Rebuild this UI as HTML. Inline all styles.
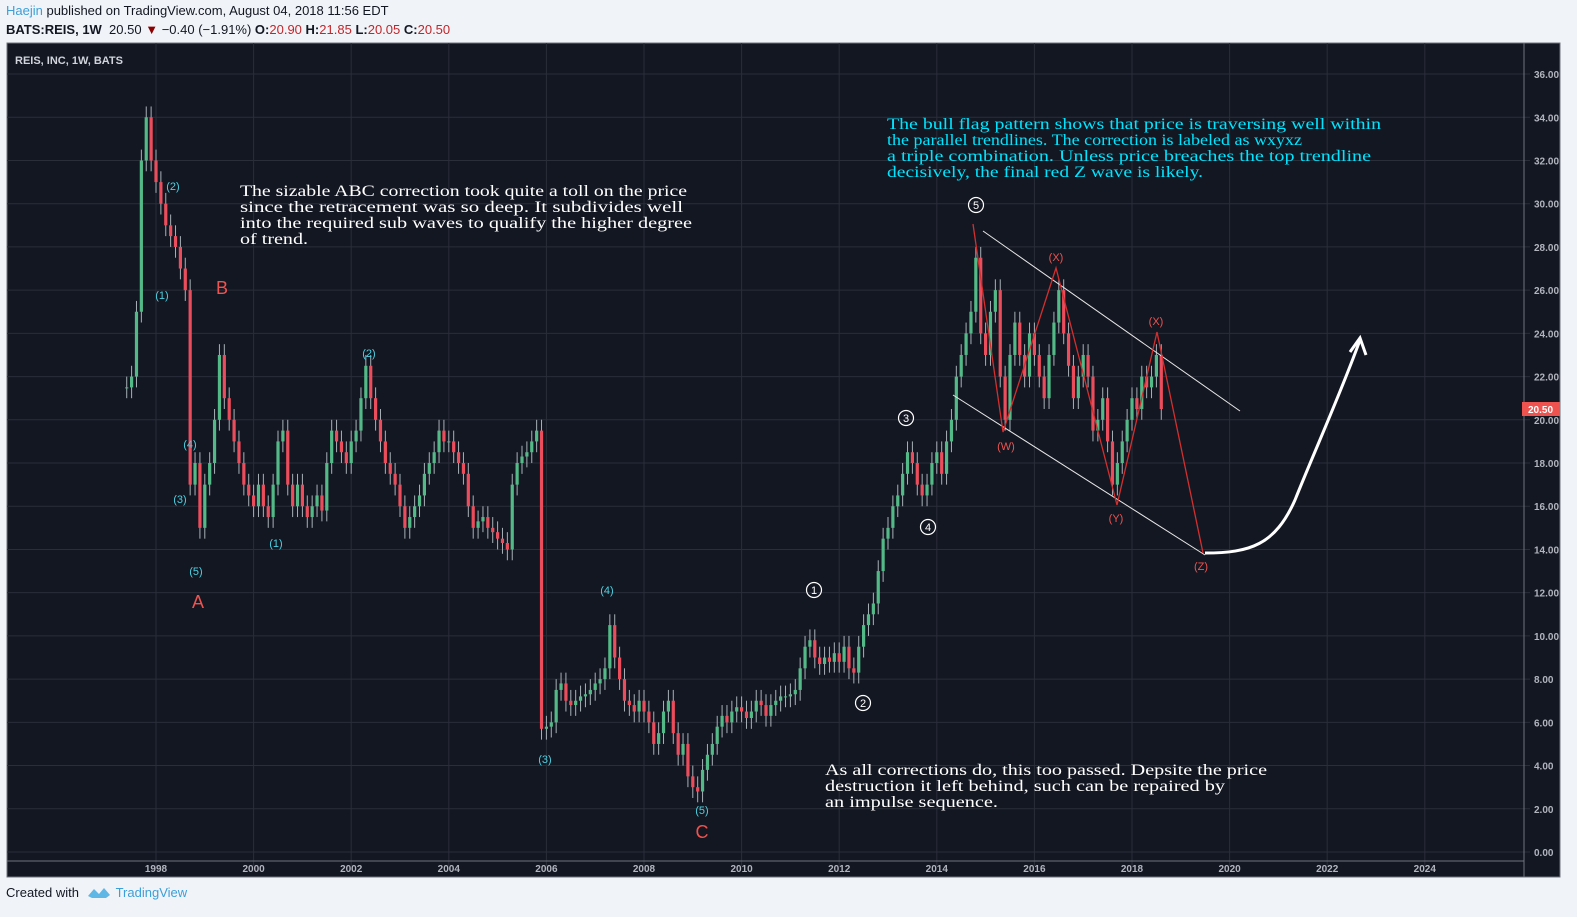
<!DOCTYPE html>
<html><head><meta charset="utf-8"><style>
body{margin:0;width:1577px;height:917px;background:#f0f3f7;overflow:hidden;font-family:"Liberation Sans",sans-serif;}
.hdr{position:absolute;left:6px;font-size:13px;color:#131722;}
</style></head><body>
<div class="hdr" style="top:3px"><span style="color:#3d9fd8">Haejin</span> published on TradingView.com, August 04, 2018 11:56 EDT</div>
<div class="hdr" style="top:22px"><b>BATS:REIS, 1W</b>&nbsp; 20.50 <span style="color:#8b0000">▼</span> −0.40 (−1.91%) <b>O:</b><span style="color:#c0262b">20.90</span> <b>H:</b><span style="color:#c0262b">21.85</span> <b>L:</b><span style="color:#c0262b">20.05</span> <b>C:</b><span style="color:#c0262b">20.50</span></div>
<div style="position:absolute;left:6px;top:885px;font-size:13px;color:#131722">Created with &nbsp;<svg width="26" height="14" viewBox="0 0 26 14" style="vertical-align:-2px"><path d="M2 11 L8 4 L13 9 L18 3 L24 10 L20 13 L6 13Z" fill="#5fb7e5"/></svg> <span style="color:#3d9fd8">TradingView</span></div>
<svg id="c" width="1577" height="917" style="position:absolute;left:0;top:0"></svg>
<script>
const years=[1998,2000,2002,2004,2006,2008,2010,2012,2014,2016,2018,2020,2022,2024];
const priceTicks=[0,2,4,6,8,10,12,14,16,18,20,22,24,26,28,30,32,34,36];
const startYear=1997.4;
const closes=[21.5,22,25,32,34,32,31,30,29,28.5,28,27,26,17,18,15,17,18,20,23,21,20,19,18,17,16.5,16,17,16,15.5,17,19,19.5,17,16,17,16,15.5,16,16.5,15.8,18,19.5,19,18.5,18,19,19.5,21,22.5,21,20,19,18,17.5,17,16,15,15.5,16,16.5,17.5,18,18.5,19.5,19,19,18.5,18,17.5,16,15,15.3,15.5,15,14.8,14.5,14.3,14,17,18,18.3,18.5,19,19.5,5.7,5.8,6,7.5,7.8,7,6.8,7,7.2,7.3,7.5,7.8,8,8.5,10.5,9,8,7,6.8,6.5,7,6.5,6,5,5.5,6.5,7,5.5,4.5,5,3.5,3,2.8,3.8,4.5,5,5.8,6.3,6,6.5,6.7,6.5,6.2,6.5,7,6.8,6.3,6.8,7,7.2,7.2,7.3,7.5,8.5,9.5,9.8,9,8.7,9,8.8,9.2,8.8,9.5,8.5,8.3,9.5,10.5,11,11.5,13,14.5,15,16,16.5,17.5,18.5,18,17,16.5,17,18,18.5,17.5,19,20,22,23,24,25,27.5,24,23,25,26,22,20,23,24.5,23,22,24,23,22,21,23,24.5,26,24,22.5,21,22,23,22,19.5,20,21,19,17,18,19,20,21,20.5,22,21.5,22,23,20.5];
const step=0.1;
const X=t=>156+(t-1998)*48.8, Y=p=>852-p*21.61;
const s=document.getElementById('c');const NS='http://www.w3.org/2000/svg';
function mk(tag,a,parent){const e=document.createElementNS(NS,tag);for(const k in a)e.setAttribute(k,a[k]);(parent||s).appendChild(e);return e;}
const bg=mk('rect',{x:7,y:43,width:1553,height:834,fill:'#131722',stroke:'#6f737c'});


const clip=mk('defs',{});const cp=mk('clipPath',{id:'pc'},clip);mk('rect',{x:7,y:43,width:1517,height:818},cp);
years.forEach(yv=>{const l=mk('line',{x1:X(yv),x2:X(yv),y1:43,y2:866,stroke:'#2a2e39'});


const t=mk('text',{x:X(yv),y:872,fill:'#b2b5be','font-size':10,'font-weight':'bold','text-anchor':'middle'});t.textContent=yv;

});
priceTicks.forEach(p=>{const l=mk('line',{x1:7,x2:1530,y1:Y(p),y2:Y(p),stroke:'#2a2e39'});


const t=mk('text',{x:1534,y:Y(p)+4,fill:'#b2b5be','font-size':10,'font-weight':'bold'});t.textContent=p.toFixed(2);

});
mk('line',{x1:1524,x2:1524,y1:43,y2:877,stroke:'#6f737c'});
mk('line',{x1:7,x2:1524,y1:861,y2:861,stroke:'#6f737c'});
const g=mk('g',{'clip-path':'url(#pc)'});
closes.forEach((c,i)=>{const o=i?closes[i-1]:c;const t=startYear+i*step;const up=c>=o;const col=up?'#53b987':'#eb4d5c';
const hi=Math.max(o,c)+0.5,lo=Math.min(o,c)-0.5;const x=X(t);
const w=mk('line',{x1:x,x2:x,y1:Y(hi),y2:Y(lo),stroke:'#aab0b8','stroke-width':1},g);


const b=mk('rect',{x:x-1.6,y:Y(Math.max(o,c)),width:3.2,height:Math.max(1,Math.abs(Y(o)-Y(c))),fill:col},g);

});
const sym=mk('text',{x:15,y:64,fill:'#d1d4dc','font-size':11,'font-weight':'bold'});sym.textContent='REIS, INC, 1W, BATS';


const pl=mk('rect',{x:1522,y:402,width:38,height:14,fill:'#ef5350'});


const plt=mk('text',{x:1528,y:413,fill:'#fff','font-size':10,'font-weight':'bold'});plt.textContent='20.50';
const tl1=mk('line',{x1:983,y1:231,x2:1240,y2:411,stroke:'#e8e8e8','stroke-width':1});


const tl2=mk('line',{x1:953,y1:395,x2:1205,y2:555,stroke:'#e8e8e8','stroke-width':1});


const zz=mk('polyline',{points:'973,224 1003,432 1056,268 1117,505 1157,332 1203,553',fill:'none',stroke:'#d32f2f','stroke-width':1.3});


const ar=mk('path',{d:'M1205,553 C1250,553 1275,545 1295,500 C1315,450 1340,395 1360,340',fill:'none',stroke:'#fff','stroke-width':3});


mk('polyline',{points:'1350,352 1360,338 1366,355',fill:'none',stroke:'#fff','stroke-width':3});
function lab(txt,x,y,col,size,name){const t=mk('text',{x:x,y:y,fill:col,'font-size':size,'text-anchor':'middle'});t.textContent=txt;

}
[['(2)',173,190],['(1)',162,299],['(4)',190,448],['(3)',180,503],['(5)',196,575],['(1)',276,547],['(2)',369,357],['(4)',607,594],['(3)',545,763],['(5)',702,814]].forEach(a=>lab(a[0],a[1],a[2],'#4dd0e1',11,'wave-label-cyan'));
[['(X)',1056,261],['(W)',1006,450],['(X)',1156,325],['(Y)',1116,522],['(Z)',1201,570]].forEach(a=>lab(a[0],a[1],a[2],'#ef5350',11,'wave-label-red'));
[['B',222,294],['A',198,608],['C',702,838]].forEach(a=>lab(a[0],a[1],a[2],'#ef5350',18,'abc-label'));
[['5',976,205],['3',906,418],['4',928,527],['1',814,590],['2',863,703]].forEach(a=>{const c=mk('circle',{cx:a[1],cy:a[2],r:7.5,fill:'none',stroke:'#fff','stroke-width':1.2});


lab(a[0],a[1],a[2]+4,'#fff',11,'impulse-wave-number');});
function para(lines,widths,x,y,col,name){lines.forEach((l,i)=>{const t=mk('text',{x:x,y:y+i*16,fill:col,'font-size':16,'font-family':'"Liberation Serif",serif',textLength:widths[i],lengthAdjust:'spacingAndGlyphs'});t.textContent=l;

});}
para(['The sizable ABC correction took quite a toll on the price','since the retracement was so deep. It subdivides well','into the required sub waves to qualify the higher degree','of trend.'],[447,443,452,68],240,196,'#ffffff','abc-note');
para(['The bull flag pattern shows that price is traversing well within','the parallel trendlines. The correction is labeled as wxyxz','a triple combination. Unless price breaches the top trendline','decisively, the final red Z wave is likely.'],[494,415,484,316],887,129,'#00e5ff','bull-flag-note');
para(['As all corrections do, this too passed. Depsite the price','destruction it left behind, such can be repaired by','an impulse sequence.'],[442,400,173],825,775,'#ffffff','impulse-note');
</script>
</body></html>
